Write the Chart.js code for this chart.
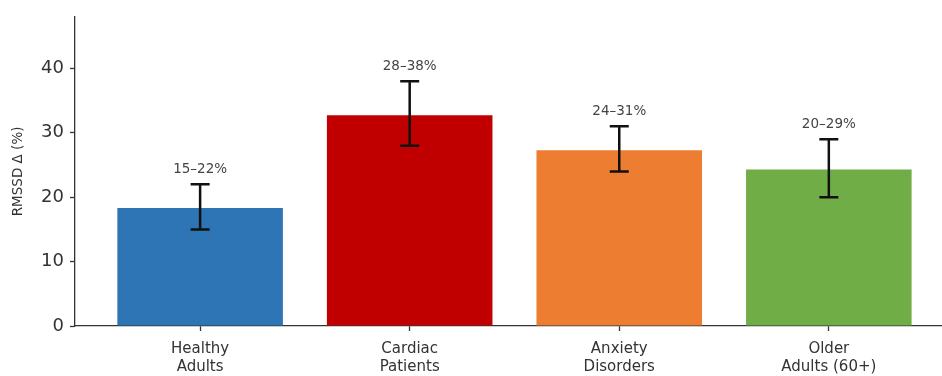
<!DOCTYPE html>
<html>
<head>
<meta charset="utf-8">
<script src="https://cdn.jsdelivr.net/npm/chart.js@4/dist/chart.umd.min.js"></script>
<style>
  html, body { margin: 0; padding: 0; background: #ffffff; }
  #wrap { width: 942px; height: 376px; }
</style>
</head>
<body>
<div id="wrap"><canvas id="c" width="942" height="376"></canvas></div>
<script>
// Groups and the RMSSD change for each
const categories = [['Healthy', 'Adults'], ['Cardiac', 'Patients'], ['Anxiety', 'Disorders'], ['Older', 'Adults (60+)']];
const rmssdMean = [18.3, 32.7, 27.3, 24.3];
const rangeLow = [15, 28, 24, 20];
const rangeHigh = [22, 38, 31, 29];
const rangeLabels = ['15–22%', '28–38%', '24–31%', '20–29%'];
const barColors = ['#2E75B6', '#C00000', '#ED7D31', '#70AD47'];
const yTicks = [0, 10, 20, 30, 40];

const FONT = '"DejaVu Sans", "Liberation Sans", sans-serif';
const AXIS = '#333333';

// Whiskers and range labels drawn through the chart scales
const errorBars = {
  id: 'errorBars',
  afterDatasetsDraw(chart) {
    const { ctx, scales: { x, y } } = chart;
    ctx.save();
    ctx.strokeStyle = '#111111';
    ctx.lineWidth = 2.5;
    ctx.lineCap = 'butt';
    const cap = 9.5;
    rangeLow.forEach((lo, i) => {
      const px = x.getPixelForValue(i);
      const yLo = y.getPixelForValue(lo);
      const yHi = y.getPixelForValue(rangeHigh[i]);
      ctx.beginPath();
      ctx.moveTo(px, yLo); ctx.lineTo(px, yHi);
      ctx.moveTo(px - cap, yLo); ctx.lineTo(px + cap, yLo);
      ctx.moveTo(px - cap, yHi); ctx.lineTo(px + cap, yHi);
      ctx.stroke();
      ctx.fillStyle = '#444444';
      ctx.font = '13.5px ' + FONT;
      ctx.textAlign = 'center';
      ctx.textBaseline = 'middle';
      ctx.fillText(rangeLabels[i], px, yHi - 15);
    });
    ctx.restore();
  }
};

new Chart(document.getElementById('c'), {
  type: 'bar',
  data: {
    datasets: [{
      data: rmssdMean.map((v, i) => ({ x: i, y: v })),
      backgroundColor: barColors,
      borderWidth: 0,
      barPercentage: 0.79,
      categoryPercentage: 1
    }]
  },
  options: {
    responsive: false,
    animation: false,
    devicePixelRatio: 1,
    layout: { padding: { left: 0, top: 15, right: 0, bottom: 0 } },
    plugins: { legend: { display: false }, tooltip: { enabled: false } },
    scales: {
      x: {
        type: 'linear',
        offset: false,
        min: -0.597,
        max: 3.54,
        afterBuildTicks(scale) { scale.ticks = categories.map((_, i) => ({ value: i })); },
        afterFit(scale) { scale.height = 50; },
        ticks: {
          callback: (v) => categories[v],
          color: '#333333',
          font: { family: FONT, size: 15, lineHeight: 1.2 },
          padding: 9,
          maxRotation: 0,
          autoSkip: false
        },
        grid: { offset: false, drawOnChartArea: false, tickLength: 5, color: AXIS, tickWidth: 1.3 },
        border: { color: AXIS, width: 1.3 }
      },
      y: {
        min: 0,
        max: 48,
        afterBuildTicks(scale) { scale.ticks = yTicks.map(v => ({ value: v })); },
        afterFit(scale) { scale.width = 75; },
        ticks: {
          color: '#333333',
          font: { family: FONT, size: 18 },
          padding: 6
        },
        grid: { drawOnChartArea: false, tickLength: 5, color: AXIS, tickWidth: 1.3 },
        border: { color: AXIS, width: 1.3 },
        title: {
          display: true,
          text: 'RMSSD Δ (%)',
          color: '#333333',
          font: { family: FONT, size: 13.5 },
          padding: { top: 10, bottom: 0 }
        }
      }
    }
  },
  plugins: [errorBars]
});
</script>
</body>
</html>
